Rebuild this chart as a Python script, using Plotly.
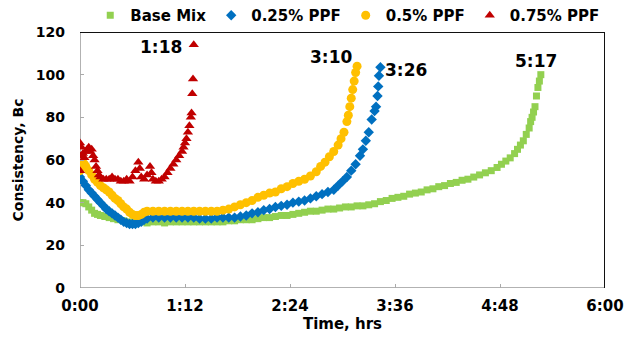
import plotly.graph_objects as go

# Time in minutes, consistency in Bc
base_t = [0, 2, 4, 6, 8, 10, 12, 14, 17, 20, 23, 26, 30, 34, 38, 42, 46, 50, 54, 58, 62, 66, 70, 74, 78,
          82, 86, 90, 94, 98, 102, 106, 110, 114, 118, 122, 126, 130, 134, 138, 142, 146, 150, 154, 158,
          162, 166, 170, 174, 178, 182, 186, 190, 194, 198, 202, 206, 210, 214, 218, 222, 226, 230, 234,
          238, 242, 246, 250, 254, 258, 262, 266, 270, 274, 278, 282, 286, 289, 292, 295, 298, 300, 302,
          304, 306, 308, 309, 310, 311, 312, 313, 314, 315, 316]
base_v = [40, 40, 39.5, 38, 36.5, 35, 34.5, 34, 33.5, 33, 32.5, 32, 31.5, 31, 31, 31, 30.5, 31, 31, 30.5, 31, 31, 31, 31, 31,
          31, 31, 31, 31, 31, 31.5, 31.5, 32, 32, 32, 32.5, 33, 33, 33.5, 34, 34, 34.5, 35, 35.5, 36,
          36, 36.5, 37, 37, 37.5, 38, 38, 38.5, 38.5, 39, 39.5, 40.5, 41, 42, 42.5, 43, 44, 44.5, 45,
          46, 46.5, 47.5, 48, 49, 49.5, 50.5, 51, 52, 53, 54, 55, 56.5, 58, 59.5, 61, 63, 65, 67,
          69, 72, 75, 78, 80, 82.5, 85, 90, 94, 97, 100]

ppf025_t = [0, 2, 4, 6, 8, 10, 12, 14, 16, 18, 20, 22, 24, 26, 28, 30, 32, 34, 36, 38, 40, 42, 44, 46, 50,
            54, 58, 62, 66, 70, 74, 78, 82, 86, 90, 94, 98, 102, 106, 110, 114, 118, 122, 126, 130, 134,
            138, 142, 146, 150, 154, 158, 162, 166, 170, 174, 177, 180, 183, 186, 189, 192, 194, 196, 198,
            200, 202, 203, 204, 204.5, 205, 206]
ppf025_v = [52, 50, 48, 46, 44.5, 43, 41.5, 40, 38.5, 37, 36, 35, 34, 33, 32, 31, 30.5, 30, 30, 30, 30.5, 31, 32, 32.5, 33,
            33, 33, 33, 33, 33, 33, 33, 32.5, 32.5, 32.5, 33, 33, 33, 33, 33.5, 34, 35, 35.5, 36.5, 37, 38,
            38.5, 39, 40, 40.5, 41, 42, 43, 44, 45, 46, 48, 50, 52, 55, 58, 62, 65, 69, 73,
            79, 83, 85, 90, 94.5, 99.5, 103.5]

ppf05_t = [0, 1, 2, 3, 4, 6, 8, 10, 12, 14, 16, 18, 20, 22, 24, 26, 28, 30, 32, 34, 36, 38, 40, 42, 44, 46,
           50, 54, 58, 62, 66, 70, 74, 78, 82, 86, 90, 94, 98, 102, 106, 110, 114, 118, 122, 126, 130, 134,
           138, 142, 146, 150, 154, 158, 162, 165, 168, 171, 174, 177, 179, 181, 183, 184, 185, 186, 187,
           188, 189, 190]
ppf05_v = [55, 57, 58.5, 58, 57, 55, 53, 51, 49.5, 48, 47, 46, 45, 43.5, 42, 41, 39.5, 38, 37, 35.5, 34.5, 34, 34, 34.5, 35.5, 36,
           36, 36, 36, 36, 36, 36, 36, 36, 36, 36, 36, 36, 36.5, 37, 38, 39, 40, 41, 42.5, 43.5, 44.5, 45,
           46.5, 47.5, 49, 50, 51, 52.5, 54.5, 57, 59, 61.5, 64, 67, 70, 73, 78, 81, 85, 89, 93,
           97, 101, 104]

ppf075_t = [0, 0, 0, 1, 2, 3, 4, 5, 6, 7, 8, 9, 10, 11, 12, 13, 14, 16, 18, 20, 22, 24, 26, 28, 30, 32, 34,
            36, 38, 40, 41, 42, 44, 46, 48, 49, 50, 52, 54, 56, 58, 60, 62, 64, 66, 68, 70, 71, 72, 73,
            74, 75, 76, 76.5, 77, 77.5, 78]
ppf075_v = [55, 62, 68, 66, 63, 61, 64, 65, 66, 64, 65, 62, 60, 57, 55, 53, 52, 51, 51, 51, 52, 51, 51, 50, 50, 51, 50,
            52, 55, 59, 56, 52, 51, 53, 57, 54, 51, 50, 50, 51, 52, 54, 56, 58, 60, 62, 64, 66, 68, 70,
            73, 76, 80, 82, 91, 98, 114]

x_range = [0, 360]
y_range = [0, 120]
x_ticks = [0, 72, 144, 216, 288, 360]
x_labels = ["0:00", "1:12", "2:24", "3:36", "4:48", "6:00"]
y_ticks = [0, 20, 40, 60, 80, 100, 120]

end_labels = ["1:18", "3:10", "3:26", "5:17"]
end_label_pos = [(55.5, 113), (172, 108.5), (223.5, 102), (313, 106.5)]

FONT = "DejaVu Sans"
X0, X1 = x_range
Y0, Y1 = y_range

fig = go.Figure()
# plot-area frame: grey left/bottom, dark top/right (built from the axis ranges)
fig.add_trace(go.Scatter(x=[X0, X0, X1], y=[Y1, Y0, Y0], mode="lines", showlegend=False,
                         hoverinfo="skip", cliponaxis=False, line=dict(color="#999999", width=1.5)))
fig.add_trace(go.Scatter(x=[X0, X1, X1], y=[Y1, Y1, Y0], mode="lines", showlegend=False,
                         hoverinfo="skip", cliponaxis=False, line=dict(color="#111111", width=2)))

fig.add_trace(go.Scatter(x=base_t, y=base_v, mode="markers", name="Base Mix",
                         marker=dict(symbol="square", size=7, color="#92D050")))
fig.add_trace(go.Scatter(x=ppf025_t, y=ppf025_v, mode="markers", name="0.25% PPF",
                         marker=dict(symbol="diamond", size=8, color="#0070C0")))
fig.add_trace(go.Scatter(x=ppf05_t, y=ppf05_v, mode="markers", name="0.5% PPF",
                         marker=dict(symbol="circle", size=9, color="#FFC000")))
fig.add_trace(go.Scatter(x=ppf075_t, y=ppf075_v, mode="markers", name="0.75% PPF",
                         marker=dict(symbol="triangle-up", size=9, color="#C00000")))

for txt, (ax, ay) in zip(end_labels, end_label_pos):
    fig.add_annotation(x=ax, y=ay, text=txt, showarrow=False,
                       font=dict(family=FONT, size=17, color="black", weight="bold"))

fig.update_layout(
    width=624, height=341,
    margin=dict(l=80, r=19, t=32, b=53, autoexpand=False),
    paper_bgcolor="white", plot_bgcolor="white",
    font=dict(family=FONT, size=13, color="black", weight="bold"),
    showlegend=True,
    legend=dict(orientation="h", x=0.51, xanchor="center", y=1.0, yanchor="bottom",
                font=dict(family=FONT, size=15, weight="bold"),
                itemwidth=30, tracegroupgap=0, bgcolor="rgba(0,0,0,0)"),
    xaxis=dict(range=x_range, tickvals=x_ticks, ticktext=x_labels, showgrid=False,
               zeroline=False, showline=False,
               ticks="inside", ticklen=4, tickcolor="#AAAAAA", ticklabelstandoff=7,
               title=dict(text="Time, hrs", font=dict(family=FONT, size=15, weight="bold"), standoff=2),
               tickfont=dict(family=FONT, size=15, weight="bold")),
    yaxis=dict(range=y_range, tickvals=y_ticks, showgrid=False, zeroline=False,
               showline=False,
               ticks="inside", ticklen=4, tickcolor="#AAAAAA",
               ticklabelstandoff=14,
               title=dict(text="Consistency, Bc", font=dict(family=FONT, size=14, weight="bold"), standoff=8),
               tickfont=dict(family=FONT, size=14, weight="bold")),
)

fig.write_html("out.html")
